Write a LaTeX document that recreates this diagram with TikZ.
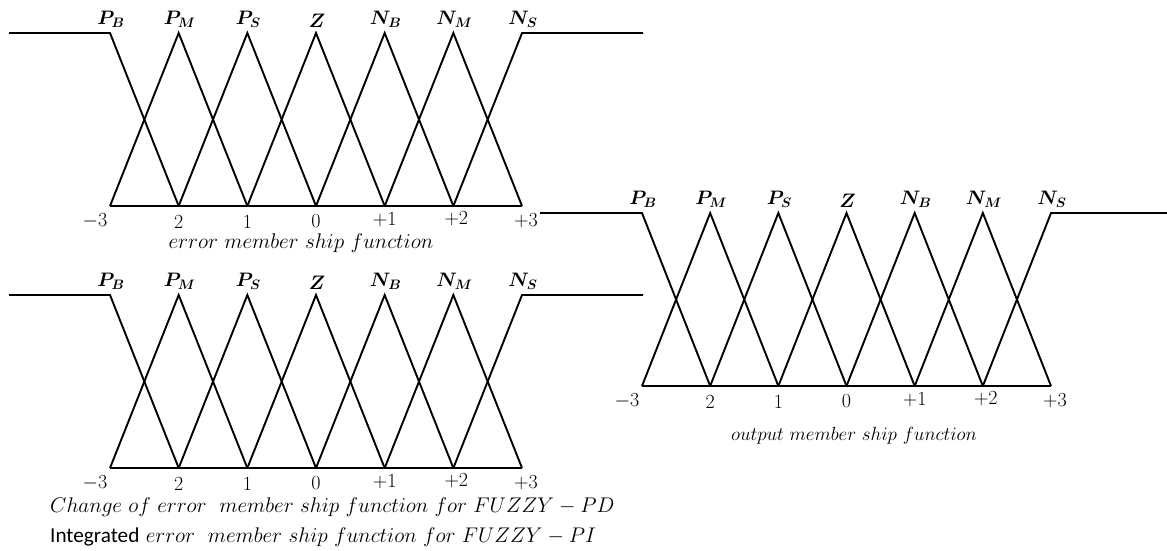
\RequirePackage{fix-cm}
\documentclass[tikz,border=0pt]{standalone}
\usepackage{amsmath,amssymb}
\usepackage{fontspec}
\newfontfamily\calibrifont{Carlito}
\usepackage{tikz}
\usetikzlibrary{positioning, calc}

\tikzset{
    mfline/.style={line width=1.9pt, line join=miter, line cap=butt},
    mflabel/.style={font=\fontsize{19.5}{23}\selectfont, inner sep=0pt, anchor=south},
    ticklabel/.style={font=\fontsize{20}{24}\selectfont, inner sep=0pt},
    caption/.style={font=\fontsize{21.2}{25}\selectfont, inner sep=0pt}
}

% #1 name, #2 x of -3, #3 y of base line, #4 step, #5 x where left line starts, #6 x where right line ends
\newcommand{\mfplot}[6]{%
    \foreach \i in {0,...,6} {
        \coordinate (#1-b\i) at ({#2+\i*#4}, #3);
        \coordinate (#1-t\i) at ({#2+\i*#4}, {#3-173});
    }
    \coordinate (#1-l) at (#5, {#3-173});
    \coordinate (#1-r) at (#6, {#3-173});
    % shoulders and base line
    \draw[mfline] (#1-l) -- (#1-t0) -- (#1-b1);
    \draw[mfline] (#1-b5) -- (#1-t6) -- (#1-r);
    \draw[mfline] (#1-b0) -- (#1-b6);
    % triangles
    \foreach \i [evaluate=\i as \p using int(\i-1), evaluate=\i as \n using int(\i+1)] in {1,...,5} {
        \draw[mfline] (#1-b\p) -- (#1-t\i) -- (#1-b\n);
    }
    % set names
    \foreach \i/\lab in {0/{P_B}, 1/{P_M}, 2/{P_S}, 3/{Z}, 4/{N_B}, 5/{N_M}, 6/{N_S}} {
        \node[mflabel] (#1-name\i) at ($(#1-t\i)+(1,-5)$) {$\boldsymbol{\lab}$};
    }
    % values on the base line
    \foreach \i/\val/\dx/\dy in {0/{-3}/-15/15, 1/{2}/0/16, 2/{1}/0/16, 3/{0}/0/15, 4/{+1}/0/14, 5/{+2}/3/13, 6/{+3}/4/15} {
        \node[ticklabel] (#1-val\i) at ($(#1-b\i)+(\dx,\dy)$) {$\val$};
    }
}

\begin{document}
\begin{tikzpicture}[x=1pt, y=-1pt]
    \useasboundingbox (0,0) rectangle (1167,550);

    % error
    \mfplot{err}{110}{206}{68.67}{9}{643}
    \node[caption] (err-cap) at (301,243) {$error\ member\ ship\ function$};

    % change of error / integrated error
    \mfplot{cerr}{110}{468}{68.67}{9}{643}
    \node[caption, anchor=west] (cerr-cap1) at (50,507) {$Change\ of\ error\ \ member\ ship\ function\ for\ FUZZY-PD$};
    \node[caption, anchor=west] (cerr-cap2) at (50,537) {{\calibrifont Integrated} $error\ \ member\ ship\ function\ for\ FUZZY-PI$};

    % output
    \mfplot{out}{642}{386}{68.17}{540}{1167}
    \node[caption, font=\fontsize{19}{23}\selectfont] (out-cap) at (854,436) {$output\ member\ ship\ function$};
\end{tikzpicture}
\end{document}
